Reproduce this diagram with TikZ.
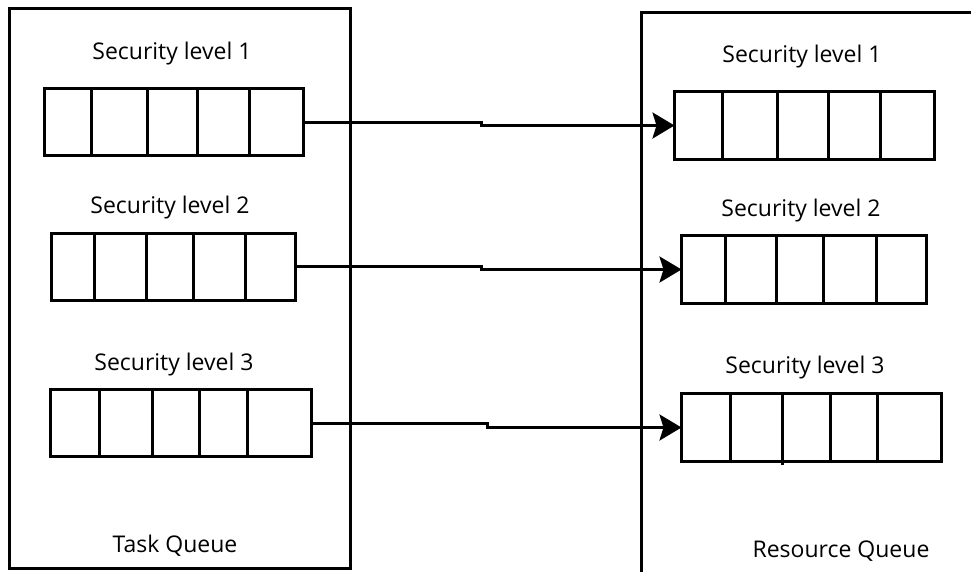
\documentclass[tikz,border=0pt]{standalone}
\usepackage{fontspec}
\newfontfamily\qfont{Open Sans}
\usetikzlibrary{arrows.meta}

\tikzstyle{outerbox} = [draw, line width=3pt]
\tikzstyle{qbox}     = [draw, line width=3pt, inner sep=0pt, outer sep=0pt, minimum height=67pt]
\tikzstyle{cell}     = [line width=3pt]
\tikzstyle{lbl}      = [font=\qfont\fontsize{23}{27}\selectfont, anchor=base, inner sep=0pt]
\tikzstyle{flow}     = [line width=3pt, -{Stealth[length=22pt, width=26pt, inset=4pt]}]

\begin{document}
\begin{tikzpicture}[x=1pt, y=-1pt]
  \useasboundingbox (0,0) rectangle (971,571);

  % task queue
  \draw[outerbox] (9.5,8.5) rectangle (350.5,568.5);
  \node[lbl] (task) at (175,552) {Task Queue};

  % resource queue (runs off the right and bottom)
  \draw[outerbox] (980,12.5) -- (641.5,12.5) -- (641.5,580);
  \node[lbl] (res) at (841,557) {Resource Queue};

  % queues on the left
  \node[lbl] (tl1) at (172,59)  {Security level 1};
  \node[lbl] (tl2) at (170,213) {Security level 2};
  \node[lbl] (tl3) at (174,370) {Security level 3};
  \node[qbox, minimum width=259pt] (l1) at (174,122)   {};
  \node[qbox, minimum width=244pt] (l2) at (173.5,266.5) {};
  \node[qbox, minimum width=261pt] (l3) at (181,423)   {};
  \foreach \x in {91,147,197,249} \draw[cell] (\x,0 |- l1.north) -- (\x,0 |- l1.south);
  \foreach \x in {94,146,193,245} \draw[cell] (\x,0 |- l2.north) -- (\x,0 |- l2.south);
  \foreach \x in {99,152,199,247} \draw[cell] (\x,0 |- l3.north) -- (\x,0 |- l3.south);

  % queues on the right
  \node[lbl] (rl1) at (802,62)  {Security level 1};
  \node[lbl] (rl2) at (801,216) {Security level 2};
  \node[lbl] (rl3) at (805,373) {Security level 3};
  \node[qbox, minimum width=260pt, minimum height=68pt] (r1) at (804.5,125.5) {};
  \node[qbox, minimum width=245pt, minimum height=68pt] (r2) at (804,269.5)   {};
  \node[qbox, minimum width=260pt, minimum height=68pt] (r3) at (811.5,427.5) {};
  \foreach \x in {722,777,828,880} \draw[cell] (\x,0 |- r1.north) -- (\x,0 |- r1.south);
  \foreach \x in {725,776,823,876} \draw[cell] (\x,0 |- r2.north) -- (\x,0 |- r2.south);
  \foreach \x in {730,830,877}     \draw[cell] (\x,0 |- r3.north) -- (\x,0 |- r3.south);
  \draw[cell] (782,0 |- r3.north) -- (782,465);

  % links
  \draw[flow] (l1.east) -- ++(178,0) |- (r1.west);
  \draw[flow] (l2.east) -- ++(186,0) |- (r2.west);
  \draw[flow] (l3.east) -- ++(176,0) |- (r3.west);
\end{tikzpicture}
\end{document}
